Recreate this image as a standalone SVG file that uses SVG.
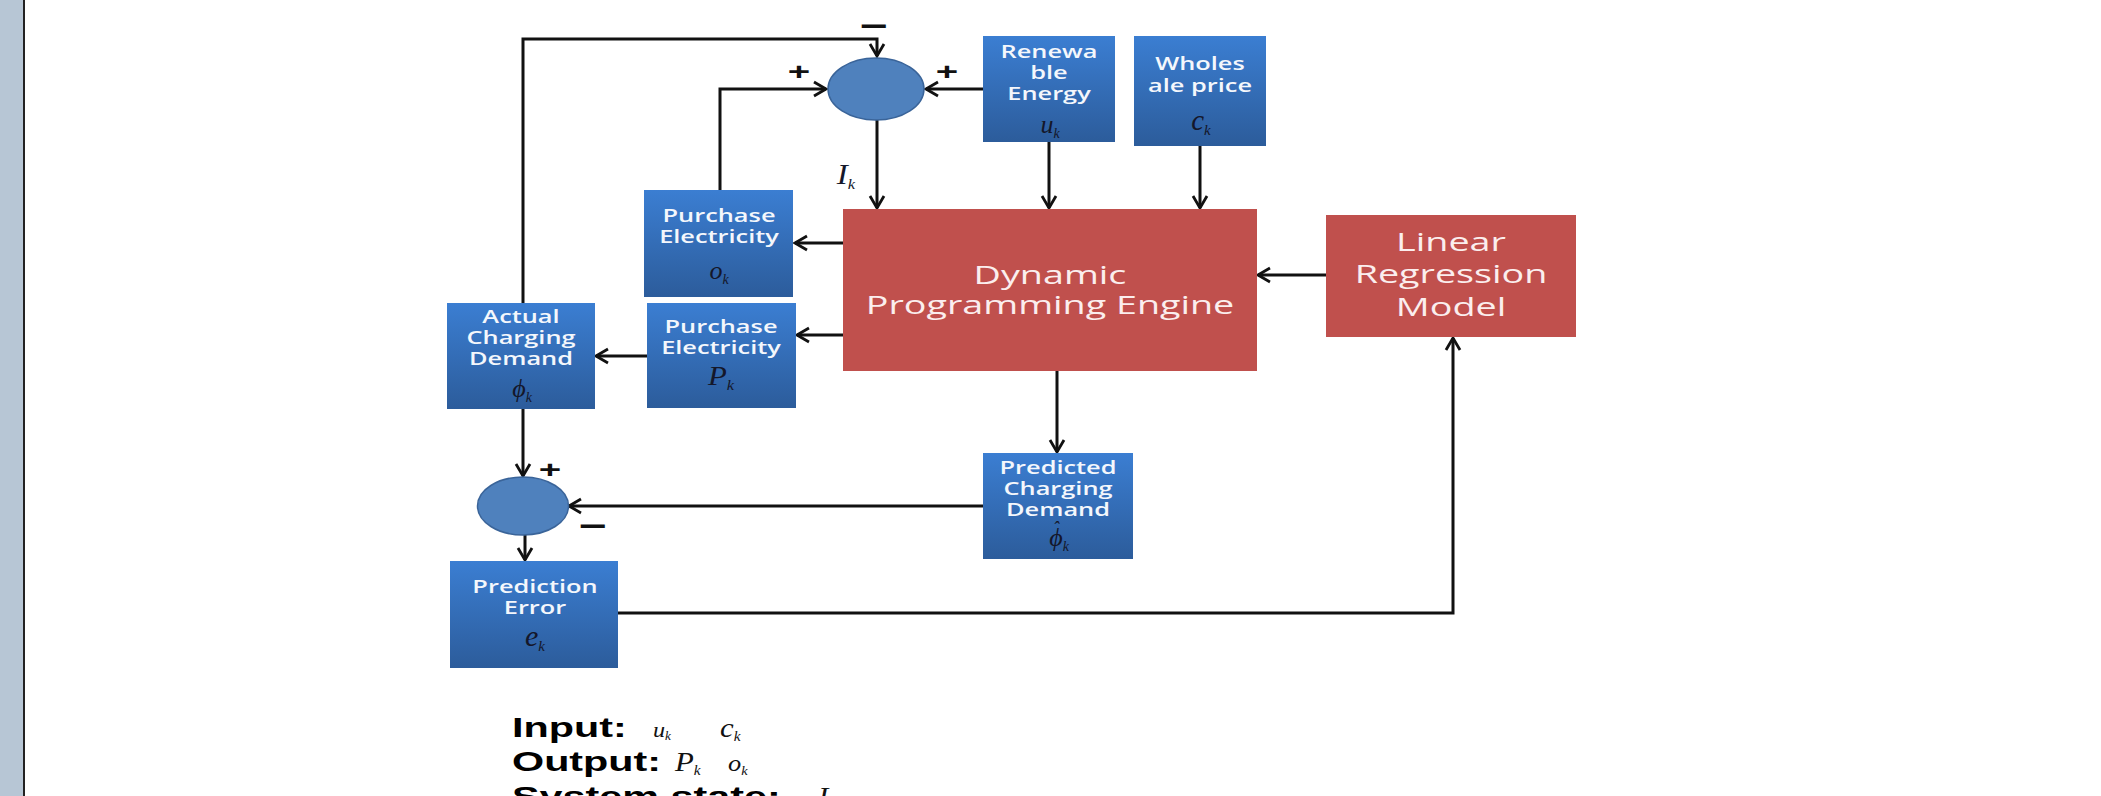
<svg xmlns="http://www.w3.org/2000/svg" width="2101" height="796" viewBox="0 0 2101 796">
  <style>
    .blue { fill: url(#blueGrad); }
    .red { fill: #c0504d; }
    .sum { fill: #4f81bd; stroke: #3a6499; stroke-width: 1.5; }
    .lbl { font-family: "Open Sans", "Liberation Sans", sans-serif; font-size: 17.5px; font-weight: 600; fill: #f4f7fc; text-anchor: middle; }
    .big { font-family: "Open Sans", "Liberation Sans", sans-serif; font-size: 26px; fill: #fbeeee; text-anchor: middle; }
    .math { font-family: "Liberation Serif", "Times New Roman", serif; font-style: italic; fill: #14172a; text-anchor: middle; }
    .sign { font-family: "Liberation Sans", Arial, sans-serif; font-weight: bold; fill: #111; text-anchor: middle; }
    .legend { font-family: "Liberation Sans", Arial, sans-serif; font-weight: bold; font-size: 28.5px; fill: #000; }
    .lm { font-family: "Liberation Serif", "Times New Roman", serif; font-style: italic; fill: #111; }
    .wire { fill: none; stroke: #111; stroke-width: 3; marker-end: url(#arr); }
  </style>
  <defs>
    <linearGradient id="blueGrad" x1="0" y1="0" x2="0" y2="1">
      <stop offset="0" stop-color="#3b7ed2"/>
      <stop offset="1" stop-color="#2c5c9b"/>
    </linearGradient>
    <marker id="arr" markerUnits="userSpaceOnUse" markerWidth="18" markerHeight="18" viewBox="0 0 18 18" refX="16" refY="9" orient="auto">
      <path d="M4,2 L16,9 L4,16" fill="none" stroke="#111" stroke-width="2.8"/>
    </marker>
  </defs>

  <rect width="2101" height="796" fill="#ffffff"/>
  <!-- page margin strip -->
  <rect x="0" y="0" width="23" height="796" fill="#b7c6d5"/>
  <rect x="23" y="0" width="2" height="796" fill="#222"/>

  <!-- connectors -->
  <g id="connectors">
    <path class="wire" d="M523,303 V39 H877 V56"/>
    <path class="wire" d="M720,190 V89 H826"/>
    <path class="wire" d="M983,89 H926"/>
    <path class="wire" d="M877,120 V208"/>
    <path class="wire" d="M1049,142 V208"/>
    <path class="wire" d="M1200,146 V208"/>
    <path class="wire" d="M843,243 H795"/>
    <path class="wire" d="M843,335 H797"/>
    <path class="wire" d="M647,356 H596"/>
    <path class="wire" d="M1326,275 H1258"/>
    <path class="wire" d="M1057,371 V452"/>
    <path class="wire" d="M523,409 V476"/>
    <path class="wire" d="M983,506 H569"/>
    <path class="wire" d="M525,535 V560"/>
    <path class="wire" d="M618,613 H1453 V338"/>
  </g>

  <!-- summing junction: upper -->
  <g id="sum-upper">
    <ellipse class="sum" cx="876" cy="89" rx="48" ry="31"/>
    <text class="sign" font-size="24" transform="translate(799,80) scale(1.6,1)">+</text>
    <text class="sign" font-size="24" transform="translate(947,80) scale(1.6,1)">+</text>
    <text class="sign" font-size="30" transform="translate(874,36) scale(1.6,1)">−</text>
    <text class="math" font-size="30" transform="translate(846,184) scale(1.1,1)">I<tspan font-size="15" dy="5">k</tspan></text>
  </g>

  <g id="renewable">
    <rect class="blue" x="983" y="36" width="132" height="106"/>
    <text class="lbl" transform="translate(1049,58) scale(1.45,1)"><tspan x="0">Renewa</tspan><tspan x="0" dy="21">ble</tspan><tspan x="0" dy="21">Energy</tspan></text>
    <text class="math" font-size="26" transform="translate(1050,133)">u<tspan font-size="14" dy="5">k</tspan></text>
  </g>

  <g id="wholesale">
    <rect class="blue" x="1134" y="36" width="132" height="110"/>
    <text class="lbl" transform="translate(1200,70) scale(1.45,1)"><tspan x="0">Wholes</tspan><tspan x="0" dy="22">ale price</tspan></text>
    <text class="math" font-size="29" transform="translate(1201,130)">c<tspan font-size="15" dy="5">k</tspan></text>
  </g>

  <g id="purchase-o">
    <rect class="blue" x="644" y="190" width="149" height="107"/>
    <text class="lbl" transform="translate(719,222) scale(1.45,1)"><tspan x="0">Purchase</tspan><tspan x="0" dy="21">Electricity</tspan></text>
    <text class="math" font-size="26" transform="translate(719,279)">o<tspan font-size="14" dy="5">k</tspan></text>
  </g>

  <g id="purchase-p">
    <rect class="blue" x="647" y="303" width="149" height="105"/>
    <text class="lbl" transform="translate(721,333) scale(1.45,1)"><tspan x="0">Purchase</tspan><tspan x="0" dy="21">Electricity</tspan></text>
    <text class="math" font-size="28" transform="translate(721,385) scale(1.1,1)">P<tspan font-size="15" dy="5">k</tspan></text>
  </g>

  <g id="actual-demand">
    <rect class="blue" x="447" y="303" width="148" height="106"/>
    <text class="lbl" transform="translate(521,323) scale(1.45,1)"><tspan x="0">Actual</tspan><tspan x="0" dy="21">Charging</tspan><tspan x="0" dy="21">Demand</tspan></text>
    <text class="math" font-size="26" transform="translate(522,397)">ϕ<tspan font-size="14" dy="5">k</tspan></text>
  </g>

  <g id="dp-engine">
    <rect class="red" x="843" y="209" width="414" height="162"/>
    <text class="big" transform="translate(1050,284) scale(1.45,1)"><tspan x="0">Dynamic</tspan><tspan x="0" dy="30">Programming Engine</tspan></text>
  </g>

  <g id="regression-model">
    <rect class="red" x="1326" y="215" width="250" height="122"/>
    <text class="big" font-size="26.5" transform="translate(1451,251) scale(1.45,1)"><tspan x="0">Linear</tspan><tspan x="0" dy="32.5">Regression</tspan><tspan x="0" dy="32.5">Model</tspan></text>
  </g>

  <g id="predicted-demand">
    <rect class="blue" x="983" y="453" width="150" height="106"/>
    <text class="lbl" transform="translate(1058,474) scale(1.45,1)"><tspan x="0">Predicted</tspan><tspan x="0" dy="21">Charging</tspan><tspan x="0" dy="21">Demand</tspan></text>
    <text class="math" font-size="26" transform="translate(1059,546)">ϕ<tspan font-size="14" dy="5">k</tspan></text>
    <text class="math" font-size="18" transform="translate(1056,534)">ˆ</text>
  </g>

  <!-- summing junction: lower -->
  <g id="sum-lower">
    <ellipse class="sum" cx="523" cy="506" rx="45.5" ry="29"/>
    <text class="sign" font-size="24" transform="translate(550,478) scale(1.6,1)">+</text>
    <text class="sign" font-size="30" transform="translate(593,536) scale(1.6,1)">−</text>
  </g>

  <g id="prediction-error">
    <rect class="blue" x="450" y="561" width="168" height="107"/>
    <text class="lbl" transform="translate(535,593) scale(1.45,1)"><tspan x="0">Prediction</tspan><tspan x="0" dy="21">Error</tspan></text>
    <text class="math" font-size="30" transform="translate(535,646)">e<tspan font-size="15" dy="5">k</tspan></text>
  </g>

  <!-- legend -->
  <g id="legend">
    <text class="legend" transform="translate(512,737) scale(1.45,1)">Input:</text>
    <text class="lm" font-size="22" transform="translate(653,737) scale(1.1,1)">u<tspan font-size="12" dy="3">k</tspan></text>
    <text class="lm" font-size="28" transform="translate(720,737) scale(1.1,1)">c<tspan font-size="14" dy="4">k</tspan></text>
    <text class="legend" transform="translate(512,771) scale(1.45,1)">Output:</text>
    <text class="lm" font-size="28" transform="translate(675,771) scale(1.1,1)">P<tspan font-size="14" dy="4">k</tspan></text>
    <text class="lm" font-size="24" transform="translate(728,771) scale(1.1,1)">o<tspan font-size="13" dy="4">k</tspan></text>
    <text class="legend" transform="translate(512,806) scale(1.45,1)">System state:</text>
    <text class="lm" font-size="28" transform="translate(818,806) scale(1.1,1)">I<tspan font-size="14" dy="4">k</tspan></text>
  </g>
</svg>
